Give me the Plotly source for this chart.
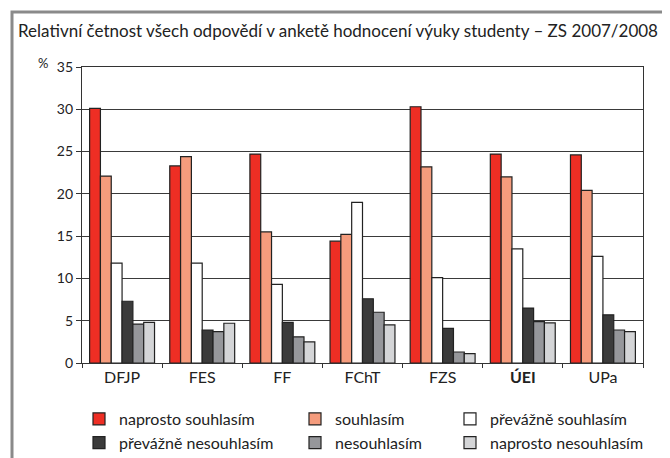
import plotly.graph_objects as go

categories = ["DFJP", "FES", "FF", "FChT", "FZS", "ÚEI", "UPa"]
tick_labels = ["DFJP", "FES", "FF", "FChT", "FZS", "<b>ÚEI</b>", "UPa"]

naprosto_souhlasim = [30.1, 23.3, 24.7, 14.4, 30.3, 24.7, 24.6]
souhlasim = [22.1, 24.4, 15.5, 15.2, 23.2, 22.0, 20.4]
prevazne_souhlasim = [11.8, 11.8, 9.3, 19.0, 10.1, 13.5, 12.6]
prevazne_nesouhlasim = [7.3, 3.9, 4.8, 7.6, 4.1, 6.5, 5.7]
nesouhlasim = [4.6, 3.7, 3.1, 6.0, 1.3, 4.9, 3.9]
naprosto_nesouhlasim = [4.8, 4.7, 2.5, 4.5, 1.1, 4.75, 3.7]

series = [
    ("naprosto souhlasím", naprosto_souhlasim, "#ee2e24", "legend"),
    ("souhlasím", souhlasim, "#f59c7d", "legend2"),
    ("převážně souhlasím", prevazne_souhlasim, "#ffffff", "legend3"),
    ("převážně nesouhlasím", prevazne_nesouhlasim, "#3b3b3b", "legend"),
    ("nesouhlasím", nesouhlasim, "#96979b", "legend2"),
    ("naprosto nesouhlasím", naprosto_nesouhlasim, "#d4d5d7", "legend3"),
]

FONT = "Lato"
fig = go.Figure()
for i, (name, vals, color, lg) in enumerate(series):
    fig.add_trace(go.Bar(
        x=categories, y=vals, name=name, legend=lg, legendgroup=name,
        marker=dict(color=color, line=dict(color="#222222", width=1.2)),
        hoverinfo="x+y+name",
    ))

# The page body has an 8px margin, so the figure is drawn in window
# coordinates offset by 8px; positions below are in window pixels.
OFF = 8
W, H = 670 - OFF, 458 - OFF
L, R, T, B = 82 - OFF, 27, 67 - OFF, 95
pw, ph = W - L - R, H - T - B

def px_x(x):
    return (x - OFF - L) / pw

def px_y(y):
    return (H - B - (y - OFF)) / ph

legend_common = dict(
    orientation="v", xanchor="left", yanchor="top",
    font=dict(family=FONT, size=16, color="#222222"),
    bgcolor="rgba(0,0,0,0)", tracegroupgap=7,
    traceorder="normal", itemclick=False,
)

fig.update_layout(
    width=W, height=H,
    margin=dict(l=L, r=R, t=T, b=B, autoexpand=False),
    paper_bgcolor="white", plot_bgcolor="white",
    font=dict(family=FONT, color="#222222"),
    barmode="group", bargap=0.19, bargroupgap=0,
    title=dict(
        text="Relativní četnost všech odpovědí v anketě hodnocení výuky studenty – ZS 2007/2008",
        x=(18 - OFF) / W, xanchor="left", xref="container",
        y=1 - (31 - OFF) / H, yanchor="middle", yref="container",
        font=dict(family=FONT, size=17, color="#222222"),
    ),
    xaxis=dict(
        tickmode="array", tickvals=categories, ticktext=tick_labels,
        tickson="boundaries", ticks="outside", ticklen=4, tickcolor="#333333",
        showline=True, linecolor="#333333", linewidth=1.2, mirror=True,
        showgrid=False, tickfont=dict(family=FONT, size=16, color="#222222"),
    ),
    yaxis=dict(
        range=[0, 35], dtick=5, ticks="outside", ticklen=5, tickcolor="#333333",
        showline=True, linecolor="#333333", linewidth=1.2, mirror=True,
        showgrid=True, gridcolor="#3a3a3a", gridwidth=1.2,
        tickfont=dict(family=FONT, size=14, color="#222222"),
        zeroline=False,
    ),
    legend=dict(x=px_x(79), y=px_y(402), **legend_common),
    legend2=dict(x=px_x(295), y=px_y(402), **legend_common),
    legend3=dict(x=px_x(450), y=px_y(402), **legend_common),
    annotations=[dict(
        text="%", x=px_x(43), y=px_y(63), xref="paper", yref="paper",
        xanchor="center", yanchor="middle",
        showarrow=False, font=dict(family=FONT, size=13, color="#222222"),
    )],
    shapes=[dict(
        type="rect", xref="paper", yref="paper",
        x0=px_x(12), x1=px_x(690), y0=px_y(480), y1=px_y(12),
        line=dict(color="#8a8a8a", width=3), layer="below",
    )],
)

fig.write_html("out.html")
